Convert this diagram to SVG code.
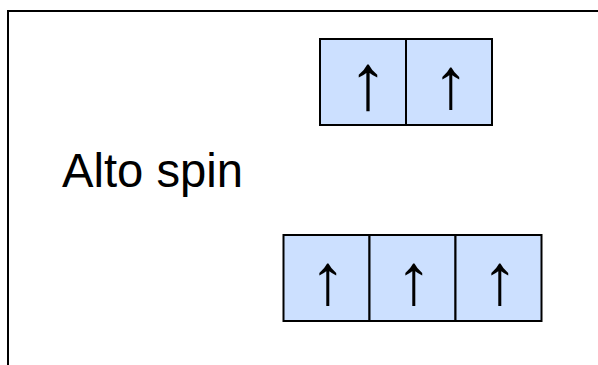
<svg xmlns="http://www.w3.org/2000/svg" width="598" height="365" viewBox="0 0 598 365">
  <style>
    .cell { fill: #cce0ff; stroke: #000; stroke-width: 2; }
    .spin { font-family: "Liberation Sans", Arial, sans-serif; font-size: 72px; fill: #000; text-anchor: middle; }
    .label { font-family: "Liberation Sans", Arial, sans-serif; font-size: 48px; fill: #000; }
  </style>
  <rect x="0" y="0" width="598" height="365" fill="#fff"/>
  <!-- frame -->
  <path d="M8 365 V11 H598" fill="none" stroke="#000" stroke-width="2"/>
  <g id="label">
    <text class="label" x="62" y="187" textLength="181" lengthAdjust="spacingAndGlyphs">Alto spin</text>
  </g>
  <g id="orbitals-upper">
    <rect class="cell" x="320" y="39" width="86" height="86"/>
    <rect class="cell" x="406" y="39" width="86" height="86"/>
    <text class="spin" x="368" y="108.6" style="font-size:79px">↑</text>
    <text class="spin" x="451" y="107.8">↑</text>
  </g>
  <g id="orbitals-lower">
    <rect class="cell" x="283.5" y="235" width="86" height="86"/>
    <rect class="cell" x="369.5" y="235" width="86" height="86"/>
    <rect class="cell" x="455.5" y="235" width="86" height="86"/>
    <text class="spin" x="328" y="303.8">↑</text>
    <text class="spin" x="414" y="303.8">↑</text>
    <text class="spin" x="500" y="303.8">↑</text>
  </g>
</svg>
